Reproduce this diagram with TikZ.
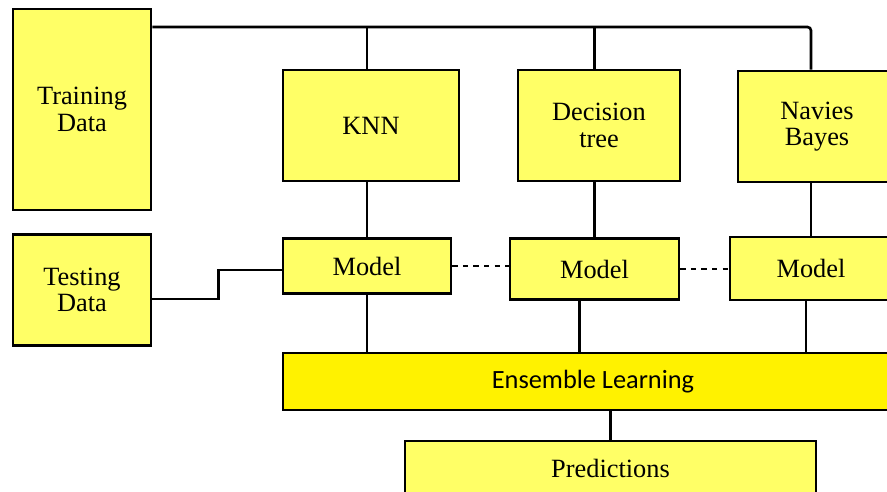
\documentclass[tikz,border=0pt]{standalone}
\usepackage{fontspec}
\setmainfont{Liberation Serif}
\newfontfamily\calibrifont{Carlito}
\usepackage{xcolor}
\usetikzlibrary{positioning,calc}
\definecolor{boxyellow}{HTML}{FFFF66}
\definecolor{ensyellow}{HTML}{FFF200}
\tikzset{
block/.style={
draw,
line width=1.6pt,
fill=boxyellow,
align=center,
inner sep=0pt,
font=\fontsize{15}{15}\selectfont
},
ensblock/.style={
block,
fill=ensyellow,
font=\calibrifont\fontsize{15}{16}\selectfont
},
link/.style={
line width=1.5pt
},
dashlink/.style={
line width=1.2pt,
dashed
}
}
\begin{document}
\begin{tikzpicture}[x=0.02cm,y=-0.02cm]
\useasboundingbox (0,0) rectangle (887,492);
\clip (0,0) rectangle (887,492);
\node[block,minimum width=2.76cm,minimum height=4.02cm](train) at (82,109.5){Training\\Data};
\node[block,minimum width=2.76cm,minimum height=2.22cm](test) at (82,290){Testing\\Data};
\node[block,minimum width=3.52cm,minimum height=2.22cm](knn) at (371,125.5){KNN};
\node[block,minimum width=3.24cm,minimum height=2.22cm](dtree) at (599,125.5){Decision\\tree};
\node[block,minimum width=3.16cm,minimum height=2.22cm](nbayes) at (817,126.5){Navies\\Bayes};
\node[block,minimum width=3.36cm,minimum height=1.1cm](model1) at (367,266){Model};
\node[block,minimum width=3.38cm,minimum height=1.22cm](model2) at (594.5,269){Model};
\node[block,minimum width=3.24cm,minimum height=1.26cm](model3) at (811,268.5){Model};
\node[ensblock,minimum width=12.4cm,minimum height=1.14cm](ens) at (593,381.5){Ensemble Learning};
\node[block,minimum width=8.22cm,minimum height=1.08cm](pred) at (610.5,468){Predictions};

% training data feeds the three classifiers
\coordinate (bus) at (811,27);
\draw[link,rounded corners=2pt] (train.east |- bus) -| (nbayes.north -| bus);
\draw[link] (model1 |- bus) -- (model1 |- knn.north);
\draw[link] (model2 |- bus) -- (model2 |- dtree.north);

\foreach \x/\y in {knn/model1,dtree/model2,nbayes/model3}
\draw[link] (\x.south -| \y) -- (\y.north);

\draw[link] ([yshift=-0.18cm]test.east) -- ++(66,0) |- ([yshift=-0.08cm]model1.west);

\draw[dashlink] (model1.east) -- (model1.east -| model2.west);
\draw[dashlink] (model2.east) -- (model2.east -| model3.west);

\draw[link] (model1.south) -- (model1.south |- ens.north);
\draw[link] ([xshift=-0.3cm]model2.south) -- ([xshift=-0.3cm]model2.south |- ens.north);
\draw[link] ([xshift=-0.1cm]model3.south) -- ([xshift=-0.1cm]model3.south |- ens.north);
\draw[link] (ens.south -| pred.north) -- (pred.north);
\end{tikzpicture}
\end{document}
